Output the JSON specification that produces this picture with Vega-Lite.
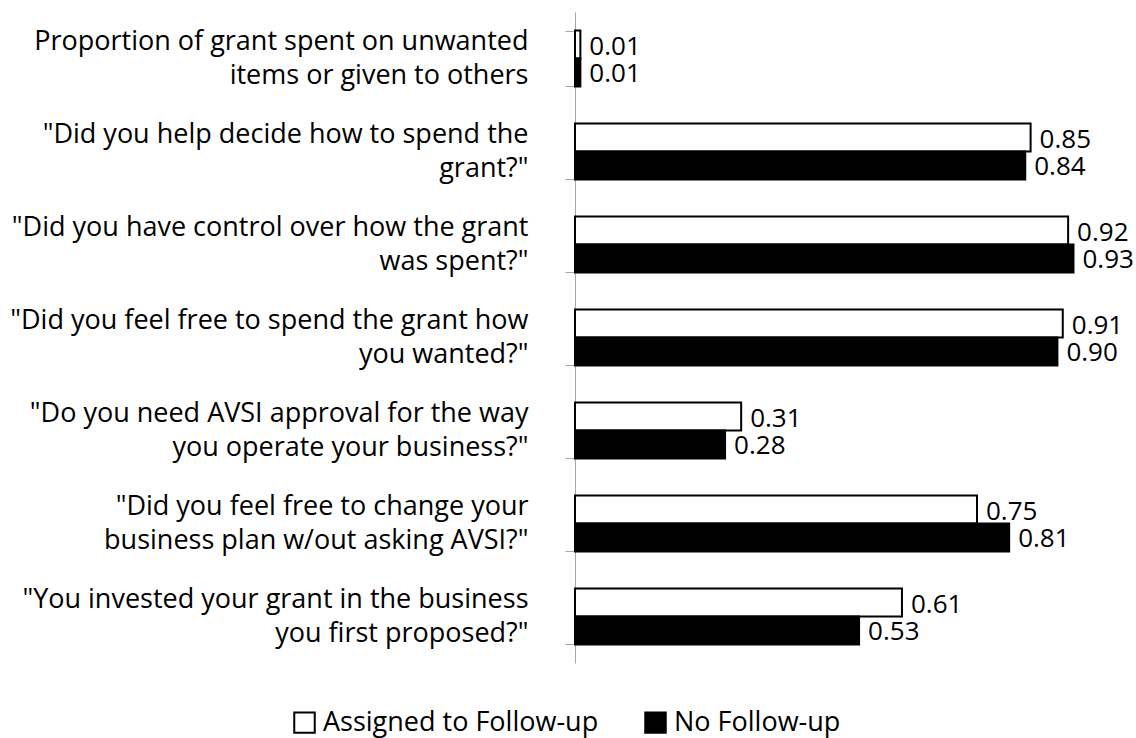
{
  "$schema": "https://vega.github.io/schema/vega-lite/v6.json",
  "width": 536,
  "height": 651,
  "autosize": {"type": "none"},
  "padding": {"left": 575, "top": 12, "right": 25, "bottom": 75},
  "background": "white",
  "config": {"view": {"stroke": null}, "font": "Open Sans"},
  "data": {
    "values": [
      {"q": "Proportion of grant spent on unwanted|items or given to others", "series": "Assigned to Follow-up", "value": 0.01},
      {"q": "Proportion of grant spent on unwanted|items or given to others", "series": "No Follow-up", "value": 0.01},
      {"q": "\"Did you help decide how to spend the|grant?\"", "series": "Assigned to Follow-up", "value": 0.85},
      {"q": "\"Did you help decide how to spend the|grant?\"", "series": "No Follow-up", "value": 0.84},
      {"q": "\"Did you have control over how the grant|was spent?\"", "series": "Assigned to Follow-up", "value": 0.92},
      {"q": "\"Did you have control over how the grant|was spent?\"", "series": "No Follow-up", "value": 0.93},
      {"q": "\"Did you feel free to spend the grant how|you wanted?\"", "series": "Assigned to Follow-up", "value": 0.91},
      {"q": "\"Did you feel free to spend the grant how|you wanted?\"", "series": "No Follow-up", "value": 0.90},
      {"q": "\"Do you need AVSI approval for the way|you operate your business?\"", "series": "Assigned to Follow-up", "value": 0.31},
      {"q": "\"Do you need AVSI approval for the way|you operate your business?\"", "series": "No Follow-up", "value": 0.28},
      {"q": "\"Did you feel free to change your|business plan w/out asking AVSI?\"", "series": "Assigned to Follow-up", "value": 0.75},
      {"q": "\"Did you feel free to change your|business plan w/out asking AVSI?\"", "series": "No Follow-up", "value": 0.81},
      {"q": "\"You invested your grant in the business|you first proposed?\"", "series": "Assigned to Follow-up", "value": 0.61},
      {"q": "\"You invested your grant in the business|you first proposed?\"", "series": "No Follow-up", "value": 0.53}
    ]
  },
  "encoding": {
    "y": {
      "field": "q", "type": "nominal", "sort": null,
      "scale": {"paddingInner": 0.4, "paddingOuter": 0.2},
      "axis": {
        "title": null,
        "labelExpr": "split(datum.label, '|')",
        "labelFont": "Open Sans",
        "labelFontSize": 27,
        "labelLineHeight": 34,
        "labelOffset": -17,
        "labelColor": "black",
        "labelLimit": 700,
        "labelPadding": 37,
        "tickBand": "extent",
        "tickSize": 10,
        "tickColor": "#a6a6a6",
        "domainColor": "#a6a6a6",
        "grid": false
      }
    },
    "yOffset": {"field": "series", "type": "nominal", "sort": ["Assigned to Follow-up", "No Follow-up"]},
    "x": {"field": "value", "type": "quantitative", "scale": {"domain": [0, 1]}, "axis": null}
  },
  "layer": [
    {
      "mark": {"type": "bar", "stroke": "black", "strokeWidth": 2},
      "encoding": {
        "color": {
          "field": "series", "type": "nominal",
          "scale": {"domain": ["Assigned to Follow-up", "No Follow-up"], "range": ["white", "black"]},
          "legend": {
            "title": null,
            "orient": "none",
            "direction": "horizontal",
            "legendX": -284,
            "legendY": 697,
            "padding": 0,
            "symbolType": "square",
            "symbolSize": 420,
            "symbolStrokeColor": "black",
            "symbolStrokeWidth": 2,
            "labelFont": "Open Sans",
            "labelFontSize": 27,
            "labelColor": "black",
            "labelLimit": 400,
            "labelOffset": 5,
            "columnPadding": 42
          }
        }
      }
    },
    {
      "mark": {"type": "text", "align": "left", "baseline": "middle", "dx": 9, "dy": 2, "fontSize": 26, "color": "black", "font": "Open Sans"},
      "encoding": {
        "text": {"field": "value", "type": "quantitative", "format": ".2f"}
      }
    }
  ]
}
